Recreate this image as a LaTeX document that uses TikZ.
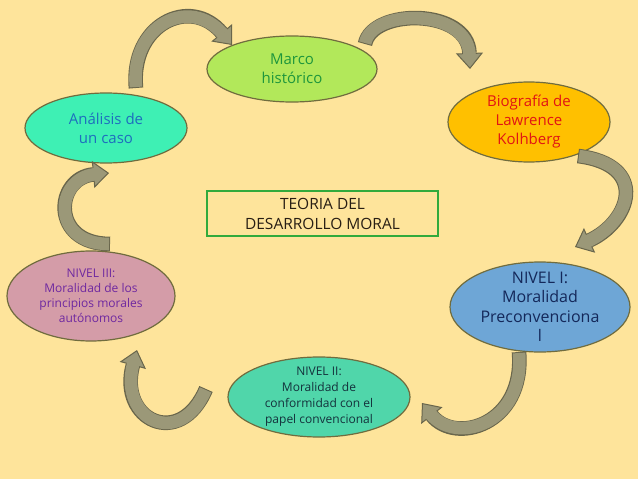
\documentclass[tikz,border=0pt]{standalone}
\usepackage{fontspec}
\setmainfont{Open Sans}
\usetikzlibrary{shapes.geometric,arrows.meta}
\definecolor{bg}{RGB}{254,228,155}
\definecolor{ovalborder}{RGB}{112,108,62}
\definecolor{arrfill}{RGB}{155,152,120}
\definecolor{arrborder}{RGB}{105,102,76}
\definecolor{marcofill}{RGB}{178,232,90}
\definecolor{marcotext}{RGB}{30,150,60}
\definecolor{anafill}{RGB}{62,240,180}
\definecolor{anatext}{RGB}{30,110,190}
\definecolor{biofill}{RGB}{255,192,0}
\definecolor{biotext}{RGB}{225,20,20}
\definecolor{nonefill}{RGB}{110,166,214}
\definecolor{nonetext}{RGB}{20,40,90}
\definecolor{ntwofill}{RGB}{80,214,170}
\definecolor{ntwotext}{RGB}{20,50,60}
\definecolor{nthreefill}{RGB}{212,156,168}
\definecolor{nthreetext}{RGB}{110,40,160}
\definecolor{teoborder}{RGB}{50,170,60}
\definecolor{teotext}{RGB}{40,30,20}
\newcommand\blockarrow[1]{\draw[arrowedge] #1; \draw[arrowcore] #1;}
\begin{document}
\begin{tikzpicture}[x=1pt,y=-1pt,
  oval/.style={ellipse, draw=ovalborder, line width=1.2pt, inner sep=0pt},
  lbl/.style={align=center, inner sep=0pt},
  arrowedge/.style={draw=arrborder, line width=14.6pt,
    -{Triangle[width=27pt,length=16pt,fill=arrfill,line width=1pt]}},
  arrowcore/.style={draw=arrfill, line width=12.6pt, shorten >=14pt, shorten <=1pt}]
\fill[bg] (0,0) rectangle (638,479);
\useasboundingbox (0,0) rectangle (638,479);

% nodes
\node[oval, fill=marcofill, minimum width=170pt, minimum height=66pt] (marco) at (292,69) {};
\node[lbl, text=marcotext, font=\fontsize{15}{19}\selectfont] (marcot) at (marco) {Marco\\histórico};

\node[oval, fill=anafill, minimum width=162pt, minimum height=70pt] (ana) at (106,128) {};
\node[lbl, text=anatext, font=\fontsize{15}{19}\selectfont] (anat) at (ana) {Análisis de\\un caso};

\node[oval, fill=biofill, minimum width=162pt, minimum height=80pt] (bio) at (529,122) {};
\node[lbl, text=biotext, font=\fontsize{15}{19}\selectfont] (biot) at (bio) {Biografía de\\Lawrence\\Kolhberg};

\node[oval, fill=nonefill, minimum width=180pt, minimum height=90pt] (n1) at (540,307) {};
\node[lbl, text=nonetext, font=\fontsize{16}{19.5}\selectfont] (n1t) at (n1) {NIVEL I:\\Moralidad\\Preconvenciona\\l};

\node[oval, fill=ntwofill, minimum width=182pt, minimum height=80pt] (n2) at (319,397) {};
\node[lbl, text=ntwotext, font=\fontsize{12}{16}\selectfont] (n2t) at (n2) {NIVEL II:\\Moralidad de\\conformidad con el\\papel convencional};

\node[oval, fill=nthreefill, minimum width=168pt, minimum height=90pt] (n3) at (91,296) {};
\node[lbl, text=nthreetext, font=\fontsize{12}{15}\selectfont] (n3t) at (n3) {NIVEL III:\\Moralidad de los\\principios morales\\autónomos};

\node[draw=teoborder, line width=1.3pt, minimum width=231pt, minimum height=45pt, inner sep=0pt] (teo) at (322.5,213.5) {};
\node[lbl, text=teotext, font=\fontsize{15.5}{20}\selectfont] (teot) at (teo) {TEORIA DEL\\DESARROLLO MORAL};

% block arrows
\blockarrow{([shift={(30,-40)}]ana.center) .. controls (130,25) and (190,-5) .. ([shift={(-60,-24)}]marco.center)}
\blockarrow{([shift={(73,-25)}]marco.center) .. controls (372,8) and (468,8) .. ([shift={(-59,-53)}]bio.center)}
\blockarrow{([shift={(49,34)}]bio.center) .. controls (650,165) and (630,222) .. ([shift={(35,-60)}]n1.center)}
\blockarrow{([shift={(-21,45)}]n1.center) .. controls (525,425) and (455,445) .. ([shift={(103,6)}]n2.center)}
\blockarrow{([shift={(-113,-8)}]n2.center) .. controls (180,450) and (118,420) .. ([shift={(46,54)}]n3.center)}
\blockarrow{([shift={(19,-52)}]n3.center) .. controls (50,244) and (55,178) .. ([shift={(3,45)}]ana.center)}
\end{tikzpicture}
\end{document}
